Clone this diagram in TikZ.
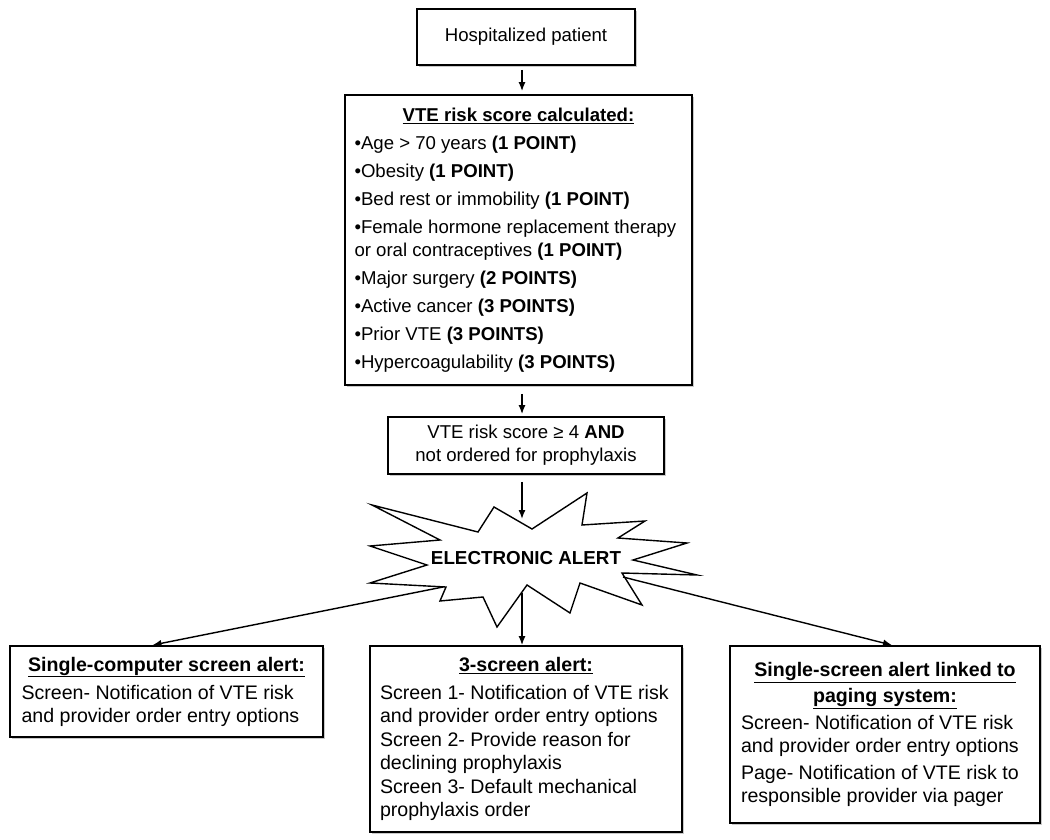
\documentclass[tikz,border=0pt]{standalone}
\usepackage{fontspec}
\setmainfont{Liberation Sans}
\usetikzlibrary{arrows.meta,shadows,calc}
\begin{document}
\begin{tikzpicture}[x=1pt,y=-1pt,
  box/.style={draw=black, line width=1.8pt, fill=white, inner sep=0pt,
    drop shadow={shadow xshift=1.8pt, shadow yshift=-1.8pt, fill=black!30, opacity=0.7}},
  arr/.style={-{Latex[length=9pt,width=7pt]}, line width=1.4pt},
  topfont/.style={font=\fontsize{18.6}{23}\selectfont},
  botfont/.style={font=\fontsize{19.6}{23}\selectfont},
  starline/.style={draw=black, fill=white, line width=1.4pt, line join=miter}]
\useasboundingbox (0,0) rectangle (1050,840);

% top chain
\node[box, topfont, minimum width=218pt, minimum height=56pt] (hosp) at (526,37) {Hospitalized patient};

\node[box, topfont, minimum width=347pt, minimum height=290pt] (risk) at (518.5,240) {%
\begin{minipage}{328pt}\setlength{\parskip}{5pt}%
\centering\underline{\textbf{VTE risk score calculated:}}\par
\raggedright
•Age > 70 years \textbf{(1 POINT)}\par
•Obesity \textbf{(1 POINT)}\par
•Bed rest or immobility \textbf{(1 POINT)}\par
•Female hormone replacement therapy\\ or oral contraceptives \textbf{(1 POINT)}\par
•Major surgery \textbf{(2 POINTS)}\par
•Active cancer \textbf{(3 POINTS)}\par
•Prior VTE \textbf{(3 POINTS)}\par
•Hypercoagulability \textbf{(3 POINTS)}\par
\end{minipage}};

\node[box, topfont, minimum width=276pt, minimum height=57pt, align=center] (crit) at (526,445.5)
  {VTE risk score ≥ 4 \textbf{AND}\\ not ordered for prophylaxis};

% starburst
\path[starline] (372,505) -- (478,532) -- (494,507) -- (532,529) -- (587,493) -- (582,525)
  -- (645,521) -- (618,538) -- (687,543) -- (633,560) -- (697,575) -- (622,573)
  -- (642,605) -- (580,583) -- (570,613) -- (527,585) -- (497,627) -- (483,597)
  -- (440,601) -- (446,587) -- (370,583) -- (427,565) -- (370,546) -- (440,540) -- cycle;
\node[font=\fontsize{18.8}{23}\selectfont\bfseries] (alert) at (526,558) {ELECTRONIC ALERT};

\coordinate (sTop) at (522,519);
\coordinate (sL) at (443,587);
\coordinate (sM) at (522,593);
\coordinate (sR) at (623,577);

% bottom boxes
\node[box, botfont, minimum width=313pt, minimum height=91pt] (single) at (166.5,691.5) {%
\begin{minipage}{290pt}\setlength{\parskip}{5pt}%
\centering\underline{\textbf{Single-computer screen alert:}}\par
\raggedright
Screen- Notification of VTE risk\\ and provider order entry options\par
\end{minipage}};

\node[box, botfont, minimum width=312pt, minimum height=186pt] (three) at (526,739) {%
\begin{minipage}{292pt}\setlength{\parskip}{1pt}%
\centering\underline{\textbf{3-screen alert:}}\par\vspace{4pt}
\raggedright
Screen 1- Notification of VTE risk\\ and provider order entry options\par
Screen 2- Provide reason for\\ declining prophylaxis\par
Screen 3- Default mechanical\\ prophylaxis order\par
\end{minipage}};

\node[box, botfont, minimum width=310pt, minimum height=177pt] (page) at (885,734.5) {%
\begin{minipage}{288pt}\setlength{\parskip}{4pt}%
\centering\underline{\textbf{Single-screen alert linked to}}\\[3pt] \underline{\textbf{paging system:}}\par
\raggedright
Screen- Notification of VTE risk\\ and provider order entry options\par
Page- Notification of VTE risk to\\ responsible provider via pager\par
\end{minipage}};

% connectors
\draw[arr, shorten <=4pt, shorten >=3pt] (hosp.south -| sM) -- (risk.north -| sM);
\draw[arr, shorten <=8pt, shorten >=2pt] (risk.south -| sM) -- (crit.north -| sM);
\draw[arr, shorten <=7pt] (crit.south -| sM) -- (sTop);
\draw[arr] (sL) -- ($(single.north)+(-14,0)$);
\draw[arr] (sM) -- (three.north -| sM);
\draw[arr] (sR) -- ($(page.north)+(7,0)$);
\end{tikzpicture}
\end{document}
